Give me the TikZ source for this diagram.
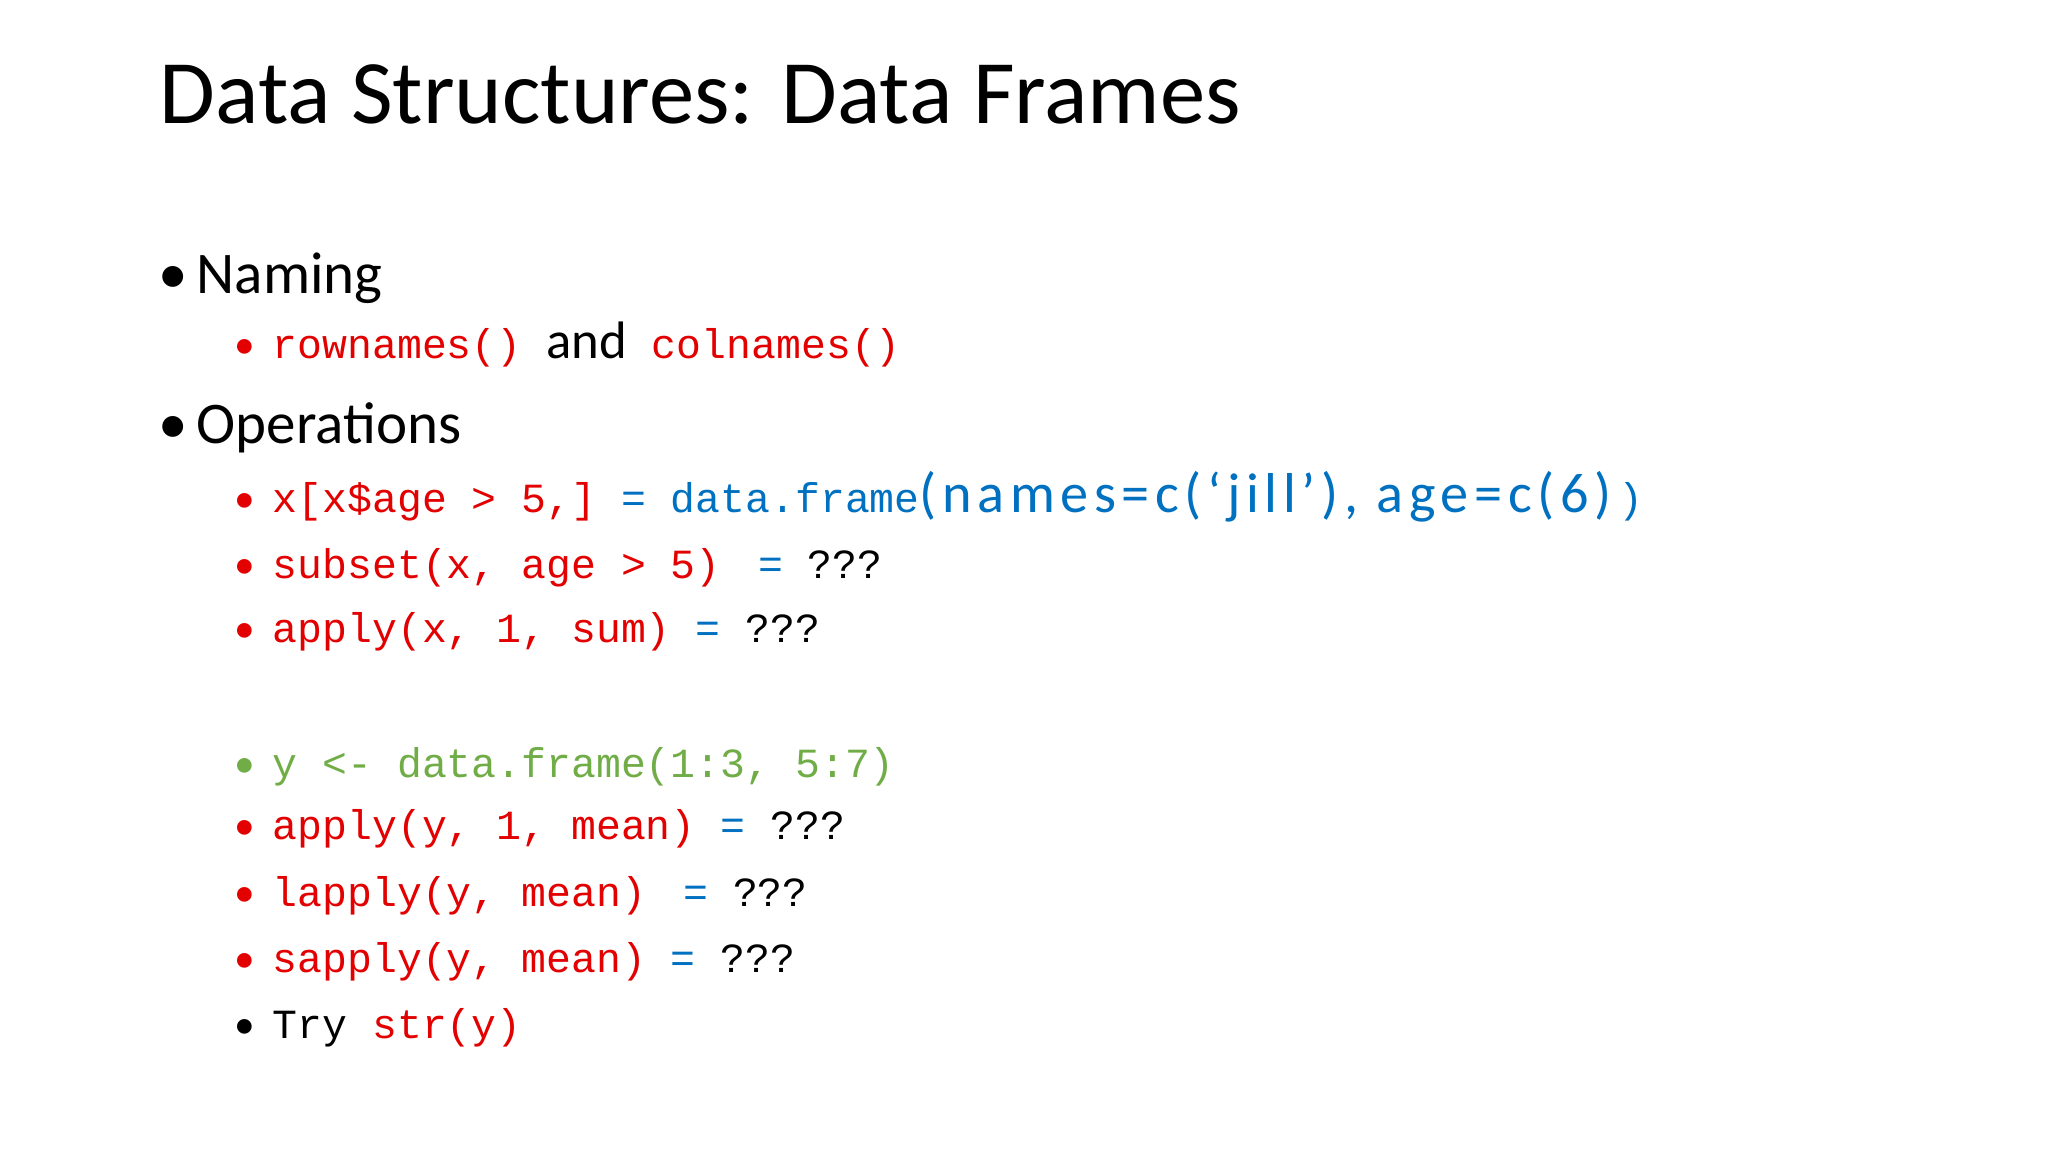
\documentclass[tikz,border=0pt]{standalone}
\usepackage{fontspec}
\setmainfont{Carlito}
\setmonofont{Liberation Mono}
\definecolor{cred}{RGB}{226,0,0}
\definecolor{cblue}{RGB}{0,112,192}
\definecolor{cgreen}{RGB}{112,173,71}
\begin{document}
\begin{tikzpicture}[
  txt/.style={anchor=base west,inner sep=0pt},
  title/.style={txt,font=\fontsize{25.8pt}{28pt}\selectfont},
  lone/.style={txt,font=\fontsize{16.8pt}{19pt}\selectfont},
  ltwo/.style={txt,font=\fontsize{11.8pt}{13pt}\selectfont}
]
\useasboundingbox[fill=white] (0,0) rectangle (20.48,-11.52);
\node[title] (t) at (1.59,-1.24) {Data Structures: Data Frames};
% level 1
\node[lone] (b1) at (1.58,-2.94) {\textbullet};
\node[lone] (n) at (1.96,-2.94) {Naming};
\node[lone] (b2) at (1.58,-4.44) {\textbullet};
\node[lone] (o) at (1.96,-4.44) {Operations};
% level 2
\foreach \nm/\y/\c in {r1/3.59/cred, r2/5.13/cred, r3/5.79/cred, r4/6.43/cred, r5/7.77/cgreen, r6/8.40/cred, r7/9.06/cred, r8/9.72/cred, r9/10.38/black}
  \node[ltwo,text=\c] (bb\nm) at (2.34,-\y) {\textbullet};
\node[ltwo] (r1) at (2.72,-3.59) {\textcolor{cred}{\ttfamily rownames()}\ttfamily{} {\rmfamily\fontsize{15pt}{16pt}\selectfont and} \textcolor{cred}{\ttfamily colnames()}};
\node[ltwo] (r2) at (2.72,-5.13) {\textcolor{cred}{\ttfamily x[x\$age > 5,]}\textcolor{cblue}{\ttfamily{} = data.frame}\textcolor{cblue}{\fontsize{16pt}{17pt}\selectfont\addfontfeature{LetterSpace=10}(names=c(‘jill’), age=c(6)}\textcolor{cblue}{\ttfamily\,)}};
\node[ltwo] (r3) at (2.72,-5.79) {\ttfamily\textcolor{cred}{subset(x, age > 5)}\textcolor{cblue}{\ \kern0.3em=} ???};
\node[ltwo] (r4) at (2.72,-6.43) {\ttfamily\textcolor{cred}{apply(x, 1, sum)}\textcolor{cblue}{\ =} ???};
\node[ltwo] (r5) at (2.72,-7.77) {\ttfamily\textcolor{cgreen}{y <- data.frame(1:3, 5:7)}};
\node[ltwo] (r6) at (2.72,-8.40) {\ttfamily\textcolor{cred}{apply(y, 1, mean)}\textcolor{cblue}{\ =} ???};
\node[ltwo] (r7) at (2.72,-9.06) {\ttfamily\textcolor{cred}{lapply(y, mean)}\textcolor{cblue}{\ \kern0.3em=} ???};
\node[ltwo] (r8) at (2.72,-9.72) {\ttfamily\textcolor{cred}{sapply(y, mean)}\textcolor{cblue}{\ =} ???};
\node[ltwo] (r9) at (2.72,-10.38) {\ttfamily Try \textcolor{cred}{str(y)}};
\end{tikzpicture}
\end{document}
